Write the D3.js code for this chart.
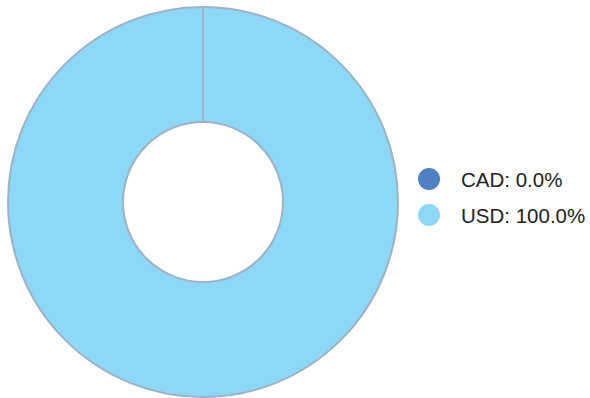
<!DOCTYPE html>
<html>
<head>
<meta charset="utf-8">
<script src="https://cdn.jsdelivr.net/npm/d3@7"></script>
<style>
  body { margin: 0; background: #fff; }
  svg { display: block; font-family: "Liberation Sans", Arial, sans-serif; }
</style>
</head>
<body>
<div id="chart"></div>
<script>
const currencies = ["CAD", "USD"];
const shares = [0.0, 100.0];
const sliceColors = ["#5080c4", "#8dd8f6"];

const width = 590;
const height = 398;
const cx = 203;
const cy = 202;
const outerR = 195;
const innerR = 80;

const svg = d3.select("#chart").append("svg")
  .attr("width", width)
  .attr("height", height);

const data = currencies.map((c, i) => ({ name: c, value: shares[i], color: sliceColors[i] }));

const pie = d3.pie().sort(null).value((d) => d.value);
const arc = d3.arc().innerRadius(innerR).outerRadius(outerR);
const arcs = pie(data);

const g = svg.append("g").attr("transform", `translate(${cx},${cy})`);

g.selectAll("path")
  .data(arcs)
  .join("path")
  .attr("d", arc)
  .attr("fill", (d) => d.data.color)
  .attr("stroke", "#9db2c6")
  .attr("stroke-width", 2);

// slice boundaries (the empty CAD slice still shows its edge)
g.selectAll("line.edge")
  .data(arcs)
  .join("line")
  .attr("class", "edge")
  .attr("x1", (d) => d3.pointRadial(d.startAngle, innerR)[0])
  .attr("y1", (d) => d3.pointRadial(d.startAngle, innerR)[1])
  .attr("x2", (d) => d3.pointRadial(d.startAngle, outerR)[0])
  .attr("y2", (d) => d3.pointRadial(d.startAngle, outerR)[1])
  .attr("stroke", "#9db2c6")
  .attr("stroke-width", 2);

const legend = svg.append("g").attr("transform", "translate(429,179)");
const item = legend.selectAll("g")
  .data(data)
  .join("g")
  .attr("transform", (d, i) => `translate(0,${i * 36})`);

item.append("circle")
  .attr("r", 11)
  .attr("fill", (d) => d.color);

item.append("text")
  .attr("x", 32)
  .attr("y", 7.5)
  .attr("font-size", 20.5)
  .attr("fill", "#222")
  .text((d) => `${d.name}: ${d.value.toFixed(1)}%`);
</script>
</body>
</html>
